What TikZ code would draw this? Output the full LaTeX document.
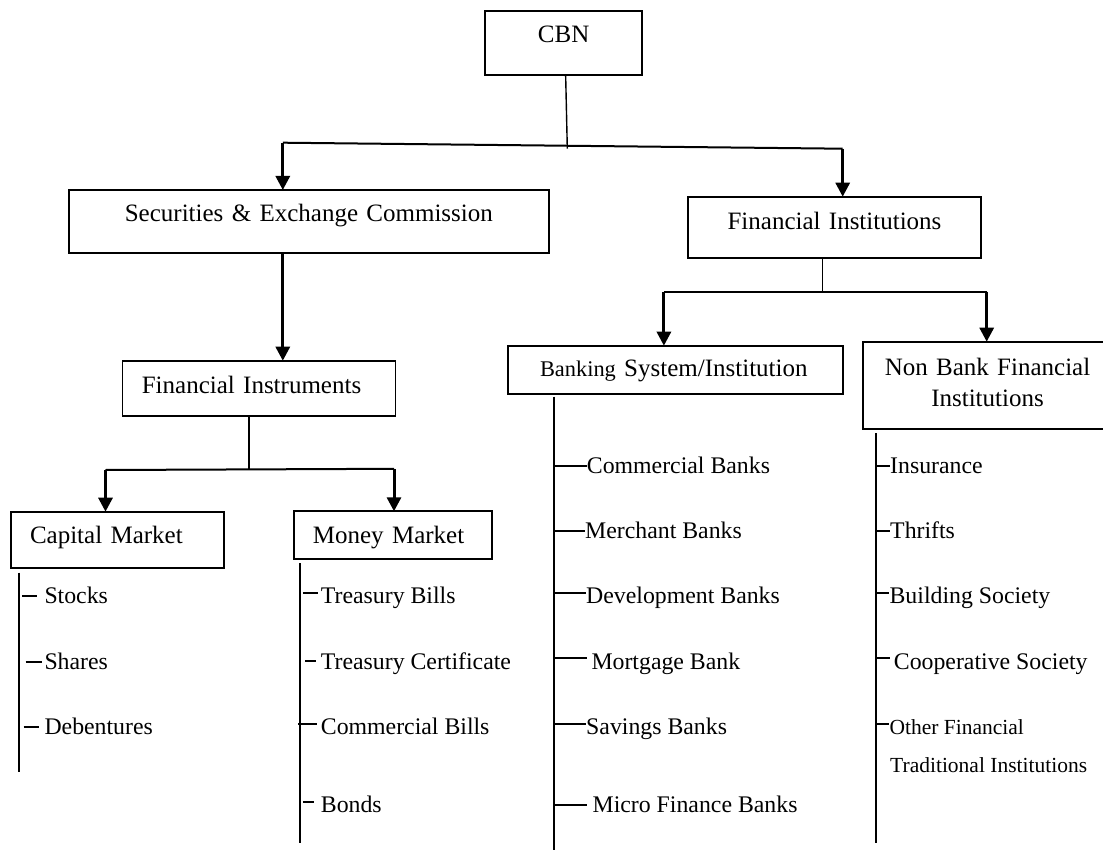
\documentclass[tikz,border=0pt]{standalone}
\usepackage{fontspec}
\setmainfont{Liberation Serif}
\usetikzlibrary{arrows.meta}
\tikzset{
  box/.style={draw, line width=1.8pt, inner ysep=0pt, outer sep=0pt, anchor=north west,
    font=\fontsize{25}{31}\selectfont},
  arr/.style={line width=3pt, -{Triangle[width=14pt,length=14pt]}},
  conn/.style={line width=2pt},
  thinconn/.style={line width=1.4pt},
  listline/.style={line width=1.8pt},
  tick/.style={line width=1.8pt},
  item/.style={anchor=base west, inner sep=0pt, font=\fontsize{23.8}{29}\selectfont},
  smallitem/.style={anchor=base west, inner sep=0pt, font=\fontsize{21.5}{26}\selectfont}
}
\begin{document}
\begin{tikzpicture}[x=1pt,y=-1pt]
\useasboundingbox (0,0) rectangle (1103,850);
\fill[white] (0,0) rectangle (1103,850);

% boxes
\node[box, inner xsep=0pt, text width=157.3pt, align=center, text height=32pt, text depth=32.3pt]
  (cbn) at (485,10.7) {CBN};
\node[box, inner xsep=0pt, text width=479.7pt, align=center, text height=31.7pt, text depth=31pt]
  (sec) at (69,190) {Securities \& Exchange Commission};
\node[box, inner xsep=0pt, text width=293pt, align=center, text height=32.6pt, text depth=29pt]
  (fin) at (688,196.7) {Financial Institutions};
\node[box, inner xsep=19.3pt, text width=234.3pt, align=left, text height=32.6pt, text depth=22.7pt]
  (fii) at (122.5,360.7) {Financial Instruments};
\node[box, inner xsep=19.3pt, text width=175pt, align=left, text height=31.6pt, text depth=25pt]
  (cap) at (10.7,511.7) {Capital Market};
\node[box, inner xsep=19.3pt, text width=159.6pt, align=left, text height=32pt, text depth=16pt]
  (mon) at (293.6,511.3) {Money Market};
\node[box, inner xsep=31.7pt, text width=271pt, align=left, text height=31pt, text depth=17.6pt]
  (bank) at (508.3,345.7) {\mbox{{\fontsize{22.4}{31}\selectfont Banking} System/Institution}};
\node[box, inner xsep=0pt, text width=249.6pt, align=center, text height=33.3pt, text depth=54.3pt]
  (nbank) at (862.7,341.7) {Non Bank Financial\\Institutions};

% top connectors
\coordinate (jL) at (282.8,142.7);
\coordinate (jR) at (842.7,148.7);
\coordinate (jC) at (567.3,148.7);
\draw[thinconn] ([xshift=2pt]cbn.south) -- (jC);
\draw[conn] (jL) -- (jR);
\draw[arr] (jL) -- (jL |- sec.north);
\draw[arr] (jR) -- (jR |- fin.north);
\draw[arr] (jL |- sec.south) -- (jL |- fii.north);

% financial instruments connectors
\coordinate (fL) at (105.5,470);
\coordinate (fR) at (394,468.8);
\coordinate (jF) at (249,469.3);
\draw[conn] (fii.south -| jF) -- (jF);
\draw[conn] (fL) -- (fR);
\draw[arr] (fL) -- (fL |- cap.north);
\draw[arr] (fR) -- (fR |- mon.north);

% financial institutions connectors
\coordinate (gL) at (663.9,291.7);
\coordinate (gR) at (986.7,291.7);
\coordinate (jG) at (822.6,291.7);
\draw[thinconn] (fin.south -| jG) -- (jG);
\draw[conn] (gL) -- (gR);
\draw[arr] (gL) -- (gL |- bank.north);
\draw[arr] (gR) -- (gR |- nbank.north);

% Capital market list
\coordinate (c1) at (19,572.7);
\coordinate (c2) at (19,771.7);
\draw[listline] (c1) -- (c2);
\node[item] (stocks) at (44.3,603.3) {Stocks};
\node[item] (shares) at (44.3,669) {Shares};
\node[item] (deb) at (44.3,734) {Debentures};
\draw[tick] (22,596) -- (37,596);
\draw[tick] (25.7,661.7) -- (41.8,661.7);
\draw[tick] (23.6,726.7) -- (39.3,726.7);

% Money market list
\coordinate (m1) at (300,563.3);
\coordinate (m2) at (300,842.7);
\draw[listline] (m1) -- (m2);
\node[item] (tb) at (320.7,603.3) {Treasury Bills};
\node[item] (tc) at (320.7,669) {Treasury Certificate};
\node[item] (cbills) at (320.7,734) {Commercial Bills};
\node[item] (bonds) at (320.7,812.7) {Bonds};
\draw[tick] (302.9,593.3) -- (317.9,593.3);
\draw[tick] (305.4,661) -- (315.7,661);
\draw[tick] (298,724.3) -- (317,724.3);
\draw[tick] (302.9,802.3) -- (314.3,802.3);

% Banking list
\coordinate (b1) at (553.6,396.7);
\coordinate (b2) at (553.6,850);
\draw[listline] (b1) -- (b2);
\node[item] (comb) at (586.7,473.3) {Commercial Banks};
\node[item] (merb) at (585,538.3) {Merchant Banks};
\node[item] (devb) at (586,603.3) {Development Banks};
\node[item] (morb) at (591.3,669) {Mortgage Bank};
\node[item] (savb) at (586,734) {Savings Banks};
\node[item] (micb) at (592.4,812.7) {Micro Finance Banks};
\draw[tick] (553.6,466) -- (586.7,466);
\draw[tick] (553.6,530.7) -- (585,530.7);
\draw[tick] (553.6,593.3) -- (586,593.3);
\draw[tick] (553.6,658.3) -- (586.7,658.3);
\draw[tick] (553.6,724) -- (586,724);
\draw[tick] (553.6,805) -- (587.4,805);

% Non bank list
\coordinate (n1) at (875.7,433.3);
\coordinate (n2) at (875.7,842.7);
\draw[listline] (n1) -- (n2);
\node[item] (ins) at (890,473.3) {Insurance};
\node[item] (thr) at (890,538.3) {Thrifts};
\node[item] (bsoc) at (889.4,603.3) {Building Society};
\node[item] (csoc) at (893.7,669) {Cooperative Society};
\node[smallitem] (oth) at (889.4,734) {Other Financial};
\node[smallitem] (trad) at (890,772.7) {Traditional Institutions};
\draw[tick] (875.7,466) -- (890,466);
\draw[tick] (875.7,530.7) -- (890,530.7);
\draw[tick] (875.7,593.3) -- (889.4,593.3);
\draw[tick] (875.7,658.3) -- (890,658.3);
\draw[tick] (875.7,724) -- (889.4,724);
\end{tikzpicture}
\end{document}
